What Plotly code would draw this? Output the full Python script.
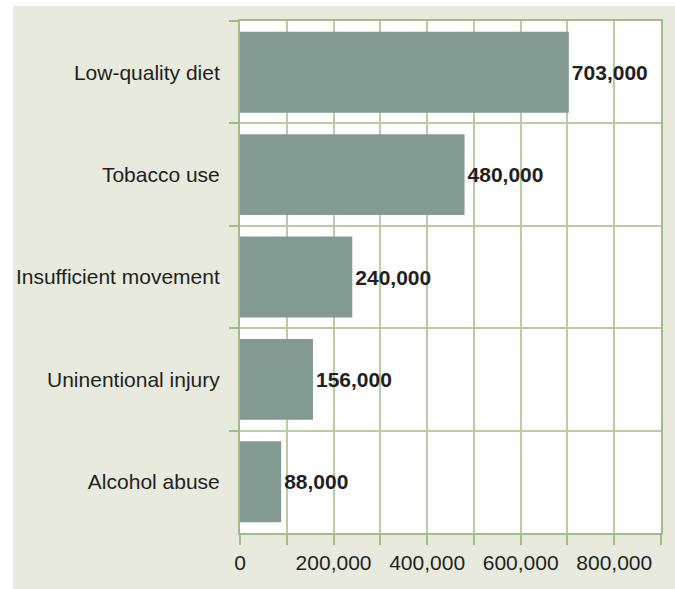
import plotly.graph_objects as go

categories = ["Low-quality diet", "Tobacco use", "Insufficient movement",
              "Uninentional injury", "Alcohol abuse"]
deaths = [703000, 480000, 240000, 156000, 88000]
bar_labels = ["703,000", "480,000", "240,000", "156,000", "88,000"]
x_tickvals = [0, 100000, 200000, 300000, 400000, 500000, 600000, 700000, 800000, 900000]
x_ticktext = ["0", "", "200,000", "", "400,000", "", "600,000", "", "800,000", ""]

FONT = "Liberation Sans, Arial, Helvetica, sans-serif"
GREEN = "#a3bb87"
GRID = "#b9cca5"
TEXT = "#231f20"

fig = go.Figure(go.Bar(
    x=deaths, y=categories, orientation="h",
    marker=dict(color="#839a93", line=dict(width=0)),
    text=bar_labels, textposition="outside", cliponaxis=False,
    textfont=dict(family=FONT, size=21, color=TEXT, weight="bold"),
    width=0.79,
))

fig.update_layout(
    width=675, height=589,
    margin=dict(l=240, r=14, t=21, b=56),
    paper_bgcolor="white", plot_bgcolor="white",
    showlegend=False,
    font=dict(family=FONT, size=21, color=TEXT),
    shapes=[
        dict(type="rect", xref="paper", yref="paper",
             x0=(13 - 240) / 421, x1=(675 - 240) / 421,
             y0=(533 - 589) / 512, y1=(533 - 6) / 512,
             fillcolor="#e7eadd", line=dict(width=0), layer="below"),
        dict(type="rect", xref="paper", yref="paper",
             x0=0, x1=1, y0=0, y1=1,
             fillcolor="white", line=dict(width=0), layer="below"),
    ],
)

fig.update_xaxes(
    range=[0, 900000], tickvals=x_tickvals, ticktext=x_ticktext,
    showgrid=True, gridcolor=GRID, gridwidth=1.5,
    showline=True, linecolor=GREEN, linewidth=2, mirror=True,
    ticks="outside", ticklen=10, tickcolor=GREEN, tickwidth=1.5,
    tickfont=dict(family=FONT, size=21, color=TEXT),
    zeroline=False,
)
fig.update_yaxes(
    autorange="reversed", tickson="boundaries",
    showgrid=True, gridcolor=GRID, gridwidth=1.5,
    showline=True, linecolor=GREEN, linewidth=2, mirror=True,
    ticks="outside", ticklen=9, tickcolor=GREEN, tickwidth=1.5,
    tickfont=dict(family=FONT, size=21, color=TEXT),
    ticklabelstandoff=14,
)

fig.write_html("out.html")
